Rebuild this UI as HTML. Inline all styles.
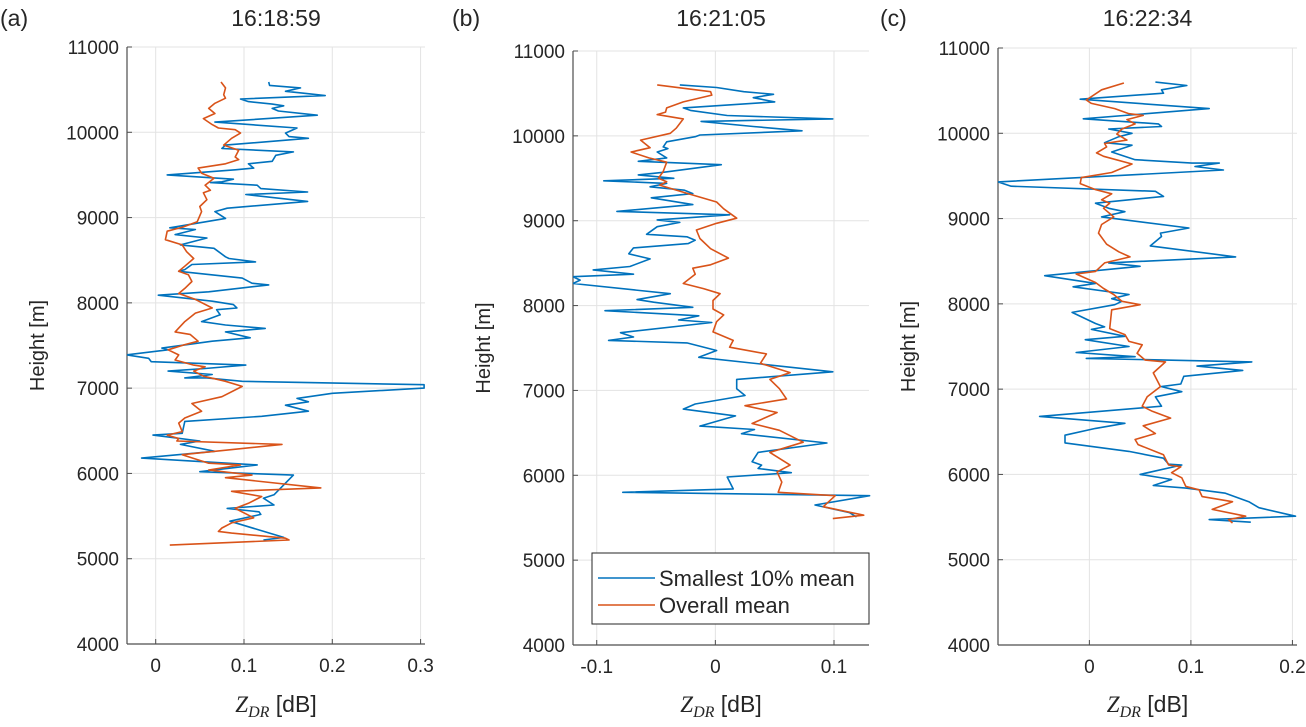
<!DOCTYPE html>
<html>
<head>
<meta charset="utf-8">
<style>
  html,body{margin:0;padding:0;background:#fff;}
  body{width:1306px;height:722px;overflow:hidden;font-family:"Liberation Sans",sans-serif;}
  svg text{font-family:"Liberation Sans",sans-serif;fill:#262626;}
</style>
</head>
<body>
<svg id="chart" width="1306" height="722" viewBox="0 0 1306 722" xmlns="http://www.w3.org/2000/svg"></svg>
<script>
// ---- Panel (a) 16:18:59 ----
const aBlueX=[0.128,0.129,0.164,0.147,0.166,0.192,0.096,0.105,0.132,0.145,0.132,0.139,0.183,0.067,0.160,0.147,0.151,0.173,0.079,0.075,0.156,0.136,0.132,0.105,0.111,0.090,0.013,0.088,0.075,0.062,0.115,0.119,0.172,0.102,0.172,0.081,0.067,0.079,0.016,0.045,0.022,0.058,0.028,0.066,0.079,0.083,0.113,0.041,0.033,0.026,0.098,0.109,0.128,0.060,0.003,0.064,0.088,0.092,0.069,0.073,0.052,0.079,0.124,0.079,0.107,0.064,0.007,0.014,-0.033,-0.008,-0.005,0.102,0.056,0.014,0.064,0.033,0.058,0.098,0.304,0.304,0.200,0.160,0.173,0.147,0.173,0.120,0.033,0.030,-0.003,0.050,0.028,0.067,-0.016,0.115,0.050,0.156,0.134,0.122,0.134,0.081,0.117,0.119,0.084,0.145,0.122];
const aBlueH=[10590,10550,10520,10480,10460,10430,10390,10360,10330,10310,10280,10250,10200,10120,10050,9990,9950,9930,9850,9810,9770,9730,9660,9630,9580,9560,9500,9450,9420,9410,9380,9340,9300,9270,9190,9110,9070,8990,8880,8860,8800,8760,8680,8640,8540,8520,8480,8450,8390,8370,8290,8230,8210,8130,8090,8020,7980,7940,7920,7860,7780,7740,7700,7660,7590,7550,7470,7450,7390,7350,7310,7270,7230,7200,7160,7120,7120,7080,7040,7000,6940,6880,6840,6800,6730,6670,6610,6470,6450,6380,6340,6260,6180,6100,6020,5980,5750,5710,5630,5590,5550,5520,5440,5250,5220];
const aOrangeX=[0.074,0.079,0.077,0.079,0.067,0.060,0.067,0.054,0.064,0.071,0.090,0.096,0.086,0.077,0.094,0.090,0.094,0.079,0.048,0.052,0.066,0.056,0.062,0.054,0.058,0.050,0.052,0.047,0.031,0.013,0.011,0.030,0.035,0.043,0.033,0.026,0.037,0.041,0.033,0.026,0.045,0.064,0.045,0.033,0.022,0.039,0.048,0.033,0.014,0.026,0.022,0.043,0.056,0.043,0.054,0.079,0.098,0.075,0.041,0.052,0.033,0.026,0.030,0.013,0.026,0.024,0.143,0.030,0.060,0.096,0.060,0.109,0.079,0.187,0.086,0.120,0.105,0.090,0.111,0.086,0.075,0.071,0.086,0.147,0.151,0.016];
const aOrangeH=[10590,10520,10440,10400,10340,10280,10220,10160,10090,10050,10030,9990,9930,9850,9790,9710,9680,9630,9580,9520,9460,9380,9320,9290,9210,9130,9070,8950,8890,8840,8740,8680,8600,8520,8430,8370,8330,8250,8170,8110,8040,7940,7880,7780,7660,7630,7550,7510,7450,7390,7330,7270,7250,7200,7140,7080,7020,6900,6820,6730,6650,6590,6490,6450,6410,6380,6340,6220,6120,6100,6040,5980,5950,5830,5790,5730,5650,5590,5480,5420,5360,5320,5300,5240,5220,5160];
const aXTicks=[0,0.1,0.2,0.3];
const aXTickLabels=["0","0.1","0.2","0.3"];

// ---- Panel (b) 16:21:05 ----
const bBlueX=[-0.030,0.001,0.024,0.049,0.032,0.050,-0.027,-0.021,0.010,0.099,-0.012,0.032,0.073,-0.013,-0.017,-0.041,-0.044,-0.040,-0.049,-0.041,-0.065,0.005,-0.044,-0.065,-0.035,-0.094,-0.041,-0.055,-0.026,-0.019,-0.054,-0.019,-0.083,0.012,-0.049,-0.030,-0.049,-0.058,-0.024,-0.017,-0.023,-0.069,-0.073,-0.055,-0.072,-0.103,-0.069,-0.120,-0.114,-0.120,-0.038,-0.066,-0.052,-0.019,-0.093,-0.014,-0.031,-0.003,-0.080,-0.069,-0.090,-0.024,0.001,-0.014,0.099,0.018,0.018,0.025,-0.017,-0.027,0.017,-0.013,0.033,0.022,0.094,0.036,0.031,0.039,0.036,0.064,0.010,0.015,-0.078,0.130,0.084,0.113,0.119];
const bBlueH=[10600,10570,10520,10490,10450,10400,10330,10300,10240,10200,10170,10110,10060,10010,9990,9930,9870,9850,9810,9740,9700,9660,9570,9540,9500,9470,9440,9400,9360,9320,9270,9190,9110,9070,9010,8980,8930,8840,8810,8770,8730,8680,8610,8550,8460,8420,8370,8340,8300,8260,8140,8070,8040,7980,7940,7880,7830,7800,7680,7630,7590,7560,7470,7390,7220,7130,7020,6940,6840,6780,6700,6580,6540,6490,6380,6270,6160,6120,6080,6030,5980,5840,5800,5760,5650,5560,5510];
const bOrangeX=[-0.049,-0.004,-0.003,-0.027,-0.041,-0.042,-0.049,-0.027,-0.033,-0.038,-0.063,-0.055,-0.071,-0.056,-0.041,-0.044,-0.048,-0.041,-0.047,-0.021,0.001,0.007,0.018,0.001,-0.016,-0.013,-0.004,0.011,-0.004,-0.019,-0.017,-0.027,-0.010,0.004,-0.002,-0.002,0.007,0.001,-0.002,0.015,0.012,0.043,0.038,0.063,0.046,0.054,0.060,0.025,0.052,0.031,0.054,0.074,0.046,0.063,0.052,0.056,0.053,0.101,0.091,0.125,0.099];
const bOrangeH=[10600,10520,10480,10400,10330,10280,10250,10200,10090,10030,9950,9860,9810,9740,9690,9580,9500,9460,9420,9310,9220,9140,9030,8970,8890,8790,8670,8560,8480,8440,8370,8260,8200,8140,8060,7960,7890,7810,7690,7590,7510,7430,7320,7210,7130,7020,6900,6820,6740,6610,6530,6390,6270,6120,6040,5920,5800,5760,5630,5530,5490];
const bXTicks=[-0.1,0,0.1];
const bXTickLabels=["-0.1","0","0.1"];

// ---- Panel (c) 16:22:34 ----
const cBlueX=[0.065,0.096,0.071,0.073,-0.009,0.118,-0.006,0.068,0.071,0.019,0.042,0.029,0.015,0.042,0.022,0.045,0.101,0.128,0.104,0.132,-0.090,-0.077,0.065,0.073,0.006,0.019,0.035,0.012,0.098,0.070,0.071,0.060,0.144,0.019,0.050,-0.044,0.006,-0.016,0.039,0.022,0.032,0.025,-0.017,0.006,0.015,0.002,0.035,-0.004,0.039,-0.013,0.045,-0.003,0.160,0.106,0.151,0.093,0.090,0.071,0.091,0.065,0.071,-0.049,0.035,0.006,-0.024,-0.024,0.039,0.073,0.078,0.091,0.050,0.081,0.063,0.095,0.134,0.157,0.167,0.203,0.118,0.159];
const cBlueH=[10600,10560,10510,10470,10400,10290,10170,10110,10080,10050,10000,9960,9890,9860,9780,9690,9650,9650,9610,9570,9430,9380,9320,9260,9180,9120,9080,9020,8890,8830,8790,8680,8550,8480,8440,8330,8240,8200,8110,8060,8030,7990,7900,7770,7730,7700,7620,7580,7500,7430,7380,7360,7320,7270,7220,7150,7060,7030,6970,6910,6800,6680,6600,6540,6460,6370,6270,6190,6120,6110,6000,5940,5870,5840,5780,5680,5610,5510,5470,5440];
const cOrangeX=[0.034,0.012,-0.003,0.002,0.025,0.039,0.053,0.037,0.045,0.032,0.027,0.037,0.015,0.017,0.007,0.014,0.042,0.022,-0.008,-0.009,0.006,0.022,0.012,0.020,0.014,0.024,0.012,0.009,0.017,0.029,0.040,0.015,0.006,-0.013,0.006,0.014,0.024,0.032,0.050,0.022,0.020,0.035,0.039,0.052,0.047,0.055,0.075,0.063,0.070,0.057,0.052,0.062,0.080,0.053,0.065,0.045,0.048,0.073,0.078,0.090,0.081,0.091,0.095,0.108,0.111,0.141,0.121,0.154,0.137,0.141];
const cOrangeH=[10590,10510,10390,10350,10290,10230,10210,10160,10110,10050,9990,9920,9880,9840,9770,9730,9640,9540,9480,9410,9340,9290,9220,9180,9120,9020,8930,8830,8700,8610,8550,8480,8380,8350,8250,8180,8110,8030,7990,7930,7710,7640,7560,7520,7420,7340,7320,7190,7030,6910,6800,6740,6660,6570,6480,6410,6350,6230,6110,6090,6020,5960,5860,5820,5740,5680,5590,5510,5470,5430];
const cXTicks=[0,0.1,0.2];
const cXTickLabels=["0","0.1","0.2"];

const yTicks=[4000,5000,6000,7000,8000,9000,10000,11000];
const yTickLabels=["4000","5000","6000","7000","8000","9000","10000","11000"];
const legendLabels=["Smallest 10% mean","Overall mean"];

const NS="http://www.w3.org/2000/svg";
const svg=document.getElementById('chart');
function mk(tag,attrs,parent){const e=document.createElementNS(NS,tag);for(const k in attrs)e.setAttribute(k,attrs[k]);(parent||svg).appendChild(e);return e;}

const BLUE="#0072BD", ORANGE="#D95319", AX="#4d4d4d";

function panel(cfg){
  const g=mk('g',{});
  
  
  const xs=v=>cfg.left+(v-cfg.xmin)/(cfg.xmax-cfg.xmin)*(cfg.right-cfg.left);
  const ys=h=>cfg.bottom-(h-4000)/(11000-4000)*(cfg.bottom-cfg.top);
  yTicks.forEach((t,i)=>{
    const y=ys(t);
    const gl=mk('line',{x1:cfg.left,x2:cfg.right,y1:y,y2:y,stroke:'#e3e3e3','stroke-width':1},g);
    
    
    const tk=mk('line',{x1:cfg.left,x2:cfg.left+5,y1:y,y2:y,stroke:AX,'stroke-width':1},g);
    
    
    const tx=mk('text',{x:cfg.left-8,y:y+7,'text-anchor':'end','font-size':19},g);
    tx.textContent=yTickLabels[i];
    
    
  });
  cfg.xticks.forEach((t,i)=>{
    const x=xs(t);
    const gl=mk('line',{x1:x,x2:x,y1:cfg.top,y2:cfg.bottom,stroke:'#e3e3e3','stroke-width':1},g);
    
    
    const tk=mk('line',{x1:x,x2:x,y1:cfg.bottom,y2:cfg.bottom-5,stroke:AX,'stroke-width':1},g);
    
    
    const tx=mk('text',{x:x,y:cfg.bottom+28,'text-anchor':'middle','font-size':19},g);
    tx.textContent=cfg.xlabels[i];
    
    
  });
  const ya=mk('line',{x1:cfg.left,x2:cfg.left,y1:cfg.top,y2:cfg.bottom,stroke:AX,'stroke-width':1.2},g);
  
  
  const xa=mk('line',{x1:cfg.left,x2:cfg.right,y1:cfg.bottom,y2:cfg.bottom,stroke:AX,'stroke-width':1.2},g);
  
  
  const clipId='clip-'+cfg.id;
  const cp=mk('clipPath',{id:clipId},g);
  mk('rect',{x:cfg.left,y:cfg.top-2,width:cfg.right-cfg.left+2,height:cfg.bottom-cfg.top+2},cp);
  [[cfg.bx,cfg.bh,BLUE,'smallest-10pct-mean-line'],[cfg.ox,cfg.oh,ORANGE,'overall-mean-line']].forEach(s=>{
    const pts=s[0].map((v,i)=>xs(v).toFixed(1)+','+ys(s[1][i]).toFixed(1)).join(' ');
    const pl=mk('polyline',{points:pts,fill:'none',stroke:s[2],'stroke-width':1.6,'stroke-linejoin':'round','clip-path':'url(#'+clipId+')'},g);
    
    
  });
  const tt=mk('text',{x:(cfg.left+cfg.right)/2,y:26,'text-anchor':'middle','font-size':23},g);
  tt.textContent=cfg.title;
  
  
  const pl=mk('text',{x:cfg.labelX,y:26,'text-anchor':'start','font-size':23},g);
  pl.textContent=cfg.letter;
  
  
  const xl=mk('text',{x:(cfg.left+cfg.right)/2,y:712,'text-anchor':'middle','font-size':23},g);
  xl.innerHTML='<tspan font-family="Liberation Serif,serif" font-style="italic">Z</tspan><tspan font-family="Liberation Serif,serif" font-style="italic" font-size="16" dy="5">DR</tspan><tspan dy="-5"> [dB]</tspan>';
  
  
  const yl=mk('text',{x:0,y:0,'text-anchor':'middle','font-size':20,transform:'translate('+(cfg.left-83)+','+((cfg.top+cfg.bottom)/2)+') rotate(-90)'},g);
  yl.textContent='Height [m]';
  
  
}

panel({id:'a',letter:'(a)',labelX:0,title:'16:18:59',left:127,right:425,top:47,bottom:644,xmin:-0.0325,xmax:0.305,xticks:aXTicks,xlabels:aXTickLabels,bx:aBlueX,bh:aBlueH,ox:aOrangeX,oh:aOrangeH});
panel({id:'b',letter:'(b)',labelX:452,title:'16:21:05',left:573,right:869,top:51,bottom:645,xmin:-0.120,xmax:0.1295,xticks:bXTicks,xlabels:bXTickLabels,bx:bBlueX,bh:bBlueH,ox:bOrangeX,oh:bOrangeH});
panel({id:'c',letter:'(c)',labelX:880,title:'16:22:34',left:998,right:1297,top:48,bottom:645,xmin:-0.090,xmax:0.2045,xticks:cXTicks,xlabels:cXTickLabels,bx:cBlueX,bh:cBlueH,ox:cOrangeX,oh:cOrangeH});

const lg=mk('g',{});


mk('rect',{x:592,y:553,width:277,height:71,fill:'#fff',stroke:'#262626','stroke-width':1},lg);
[BLUE,ORANGE].forEach((c,i)=>{
  const y=578+i*27;
  const ln=mk('line',{x1:598,x2:655,y1:y,y2:y,stroke:c,'stroke-width':1.6},lg);
  
  
  const t=mk('text',{x:659,y:y+8,'font-size':22},lg);
  t.textContent=legendLabels[i];
  
  
});
</script>
</body>
</html>
